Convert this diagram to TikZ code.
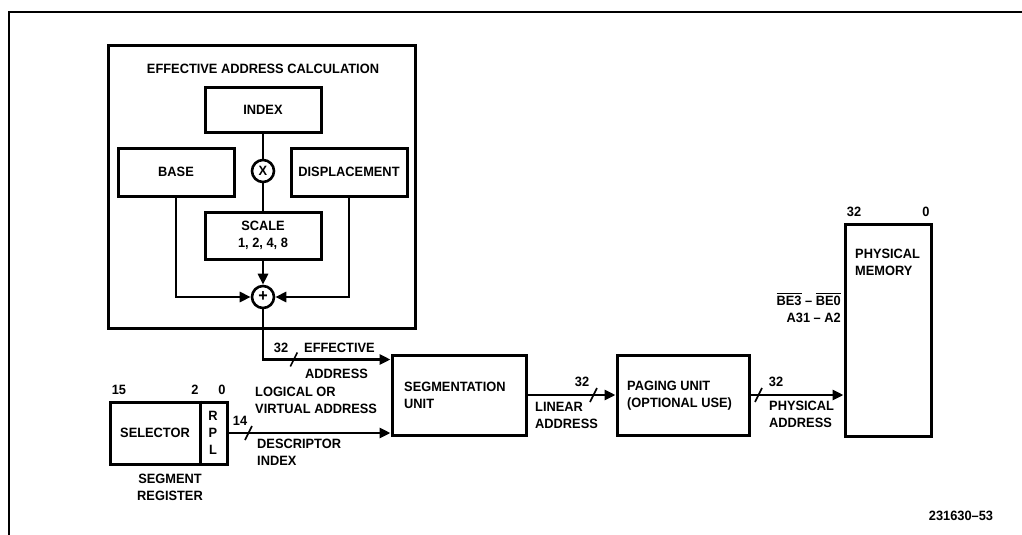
\documentclass[tikz,border=0pt]{standalone}
\usepackage{fontspec}
\setmainfont{Liberation Sans}[FakeStretch=0.95]
\usetikzlibrary{
  positioning,
  arrows.meta,
  decorations.markings
}
\newcommand{\ovl}[1]{\vbox{\hrule height 1.3pt\kern 2pt\hbox{#1}}}

\begin{document}
\begin{tikzpicture}[
  x=1pt, y=-1pt,
  font=\fontsize{13.5}{17}\selectfont\bfseries,
  >={Triangle[length=11pt,width=10pt]},
  box/.style={
    draw,
    line width=3pt,
    inner sep=0pt,
    align=center,
  },
  op/.style={
    circle,
    draw,
    line width=2.6pt,
    minimum size=22pt,
    inner sep=0pt,
  },
  wire/.style={line width=2.8pt},
  arr/.style={wire, ->},
  lab/.style={inner sep=0pt, align=left},
  slash/.style={
    postaction={decorate, decoration={markings,
      mark=at position #1 with {\draw[-, line width=1.6pt] (-3.5pt,-7pt) -- (3.5pt,7pt);}}}
  },
  frame/.style={line width=1.8pt},
]
  \useasboundingbox (0,0) rectangle (1022,535);
  \draw[frame] (1022,12) -- (9,12) -- (9,535);

  % -------- effective address calculation --------
  \node[box, minimum width=307pt, minimum height=282pt] (EAC) at (261.5,187) {};
  \node[lab] (TITLE) at (263,69) {EFFECTIVE ADDRESS CALCULATION};
  \node[box, minimum width=116pt, minimum height=45pt] (IDX) at (263,109.5) {INDEX};
  \node[box, minimum width=116pt, minimum height=48pt] (BASE) at (176,172) {BASE};
  \node[box, minimum width=116pt, minimum height=48pt] (DISP) at (349,172) {DISPLACEMENT};
  \node[op] (MUL) at (263,171) {X};
  \node[box, minimum width=116pt, minimum height=47pt] (SCL) at (263,235.5) {SCALE\\1, 2, 4, 8};
  \node[op, font=\fontsize{17}{17}\selectfont\bfseries] (ADD) at (263,297) {+};

  \draw[wire] (IDX) -- (MUL) -- (SCL);
  \draw[arr] (SCL) -- (ADD);
  \draw[arr] (BASE.south) |- (ADD.west);
  \draw[arr] (DISP.south) |- (ADD.east);

  % -------- segment register --------
  \node[box, minimum width=117pt, minimum height=62pt] (SEL) at (168.5,433) {};
  \node[lab] (SELTXT) at (155,433) {SELECTOR};
  \draw[wire] ([xshift=-28pt]SEL.north east) -- ([xshift=-28pt]SEL.south east);
  \node[lab, align=center] (RPL) at (213,433) {R\\P\\L};
  \node[lab] (B15) at (119,390) {15};
  \node[lab] (B2) at (195,390) {2};
  \node[lab] (B0) at (222,390) {0};
  \node[lab, align=center] (SEGREG) at (170,487.5) {SEGMENT\\REGISTER};

  % -------- units along the main path --------
  \node[box, minimum width=134pt, minimum height=80pt] (SEG) at (459,395) {};
  \node[lab, anchor=west] at (404,395.5) {SEGMENTATION\\UNIT};
  \node[box, minimum width=132pt, minimum height=80pt] (PAG) at (683,395) {};
  \node[lab, anchor=west] at (627,395.5) {PAGING UNIT\\(OPTIONAL USE)};
  \node[box, minimum width=86pt, minimum height=212pt] (MEM) at (888,330) {};
  \node[lab, anchor=west] at (855,262.5) {PHYSICAL\\MEMORY};
  \node[lab] (M32) at (854,212) {32};
  \node[lab] (M0) at (926,212) {0};
  \node[lab, align=right, anchor=east] (PINS) at (841,307.5) {\ovl{BE3} -- \ovl{BE0}\\A31 -- A2};

  % -------- buses --------
  \draw[arr, slash=81pt] (ADD.south) |- ([yshift=-6pt]SEG.north west);
  \draw[arr, slash=20pt] (SEL.east) -- (SEL.east -| SEG.west);
  \draw[arr, slash=66pt] (SEG.east) -- (PAG.west);
  \draw[arr, slash=8pt] (PAG.east) -- (PAG.east -| MEM.west);

  % -------- bus labels --------
  \node[lab] at (281,348) {32};
  \node[lab, anchor=west] at (304,348) {EFFECTIVE};
  \node[lab, anchor=west] at (305,374) {ADDRESS};
  \node[lab, anchor=west] at (255,400) {LOGICAL OR\\VIRTUAL ADDRESS};
  \node[lab] at (240,421) {14};
  \node[lab, anchor=west] at (257,452) {DESCRIPTOR\\INDEX};
  \node[lab] at (582,382) {32};
  \node[lab, anchor=west] at (535,415.5) {LINEAR\\ADDRESS};
  \node[lab] at (776,382) {32};
  \node[lab, anchor=west] at (769,414.5) {PHYSICAL\\ADDRESS};

  \node[lab] (FIGNO) at (961,516) {231630--53};
\end{tikzpicture}
\end{document}
